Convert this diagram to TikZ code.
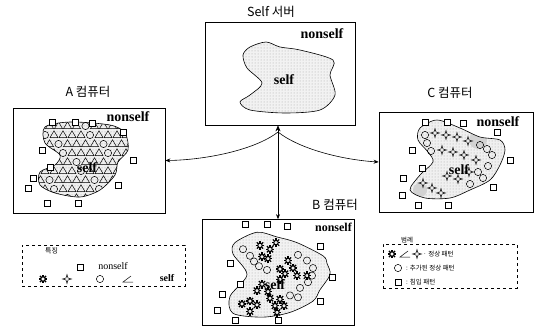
\documentclass[tikz,border=0pt]{standalone}
\usepackage{fontspec}
\setmainfont{Liberation Serif}
\newfontfamily\kr{Noto Sans CJK KR}
\usetikzlibrary{arrows.meta,shapes.geometric,patterns}

\tikzset{
  frame/.style={draw, line width=0.7pt, inner sep=0pt, fill=white},
  ttl/.style={font=\kr\fontsize{12.5}{12.5}\selectfont, inner sep=0pt},
  nsl/.style={font=\bfseries\fontsize{14}{14}\selectfont, inner sep=0pt},
  keybox/.style={draw, dashed, line width=0.5pt, inner sep=0pt},
  keytxt/.style={font=\kr\fontsize{6.5}{6.5}\selectfont, inner sep=0pt, anchor=west},
  link/.style={line width=0.6pt},
  % markers
  sqm/.pic={\draw[line width=0.5pt, fill=white] (-3,-3) rectangle (3,3);},
  cim/.pic={\draw[line width=0.5pt] (0,0) circle (3.6);},
  trm/.pic={\draw[line width=0.5pt] (-4,2.6) -- (4,2.6) -- (0,-4.2) -- cycle;},
  gearm/.pic={\draw[line width=1pt] (0,0) circle (2.2);
              \foreach \a in {0,45,...,315} \draw[line width=1.2pt] (\a:2.2) -- (\a:4.4);},
  starm/.pic={\draw[line width=0.5pt, fill=white] (0,-4.5) -- (1,-1) -- (4.5,0) -- (1,1)
              -- (0,4.5) -- (-1,1) -- (-4.5,0) -- (-1,-1) -- cycle;},
  angm/.pic={\draw[line width=0.5pt] (5,3) -- (-5,3) -- (3,-3);}
}

\begin{document}
\begin{tikzpicture}[x=1pt,y=-1pt]
\useasboundingbox (0,0) rectangle (536,327);

% ---------- frames ----------
\node[frame, minimum width=150pt, minimum height=103pt] (srv) at (280,73.5) {};
\node[frame, minimum width=152pt, minimum height=105pt] (pcA) at (89,160.5) {};
\node[frame, minimum width=154pt, minimum height=100pt] (pcC) at (456,162) {};
\node[frame, minimum width=152pt, minimum height=106pt] (pcB) at (278,272.5) {};

\node[ttl] (tsrv) at (271,12) {Self 서버};
\node[ttl] (tA) at (88,92) {A 컴퓨터};
\node[ttl] (tC) at (450,93) {C 컴퓨터};
\node[ttl] (tB) at (335,205) {B 컴퓨터};

% ---------- server region ----------
\begin{scope}
  \clip plot[smooth cycle] coordinates {(266,42) (250,47) (243,55) (247,68) (262,83) (250,95)
    (240,102) (250,110) (285,113) (320,110) (335,95) (330,75) (333,60) (300,50) (280,47)};
  \fill[gray!10] (200,20) rectangle (360,130);
  \path[pattern=dots, pattern color=gray!70] (200,20) rectangle (360,130);
\end{scope}
\draw[link] plot[smooth cycle] coordinates {(266,42) (250,47) (243,55) (247,68) (262,83) (250,95)
    (240,102) (250,110) (285,113) (320,110) (335,95) (330,75) (333,60) (300,50) (280,47)};
\node[nsl] (nsS) at (322,34) {nonself};
\node[nsl] (sS) at (284,80) {self};

% ---------- computer A ----------
\begin{scope}
  \clip plot[smooth cycle] coordinates {(45,127) (70,122) (110,125) (125,133) (128,150) (118,162)
    (115,175) (100,190) (80,197) (55,193) (40,185) (40,172) (55,165) (60,155) (45,143)};
  \fill[gray!12] (20,110) rectangle (140,205);
  \path[pattern=dots, pattern color=gray!70] (20,110) rectangle (140,205);
  \foreach \y [count=\r] in {126,135,...,198}{
    \foreach \x [count=\c] in {36,45,...,132}{
      \pgfmathsetmacro\xx{\x+mod(\r,2)*4.5}
      \pgfmathtruncatemacro\k{mod(\r*2+\c*3,5)}
      \ifnum\k=0 \pic at (\xx,\y) {cim}; \else \pic at (\xx,\y) {trm}; \fi
    }
  }
\end{scope}
\draw[link] plot[smooth cycle] coordinates {(45,127) (70,122) (110,125) (125,133) (128,150) (118,162)
    (115,175) (100,190) (80,197) (55,193) (40,185) (40,172) (55,165) (60,155) (45,143)};
\foreach \x/\y in {52/122,75/122,92/123,123/132,42/150,50/167,133/160,118/185,33/178,28/188,47/203,78/203}
  \pic at (\x,\y) {sqm};
\node[nsl] (nsA) at (128,117) {nonself};
\node[nsl] (sA) at (87,168) {self};

% ---------- computer C ----------
\begin{scope}
  \clip plot[smooth cycle] coordinates {(437,120) (420,128) (418,140) (428,152) (433,162) (420,175)
    (410,190) (425,198) (450,198) (470,190) (490,180) (500,165) (505,150) (500,140) (480,137) (460,128)};
  \fill[gray!12] (400,110) rectangle (520,205);
  \path[pattern=dots, pattern color=gray!70] (400,110) rectangle (520,205);
  \fill[gray!35] (478,140) circle (9);
  \fill[gray!35] (420,190) circle (7);
\end{scope}
\draw[link] plot[smooth cycle] coordinates {(437,120) (420,128) (418,140) (428,152) (433,162) (420,175)
    (410,190) (425,198) (450,198) (470,190) (490,180) (500,165) (505,150) (500,140) (480,137) (460,128)};
\foreach \x/\y in {425/135,427/143,431/151,480/145,487/149,492/155,478/172,483/178,470/184,488/166}
  \pic at (\x,\y) {cim};
\foreach \x/\y in {435/133,446/135,457/137,468/141,442/150,453/152,464/155,447/176,458/179,469/172,
                   423/183,432/188,441/193,476/160}
  \pic at (\x,\y) {starm};
\foreach \x/\y in {425/122,447/122,463/123,497/132,412/150,422/168,510/160,493/187,403/178,402/195,418/205,448/205}
  \pic at (\x,\y) {sqm};
\node[nsl] (nsC) at (498,122) {nonself};
\node[nsl] (sC) at (459,170) {self};

% ---------- computer B (contents laid out on a slightly compressed grid) ----------
\begin{scope}[yshift=-22.9pt, yscale=0.943]
  \begin{scope}
    \clip plot[smooth cycle] coordinates {(257,222) (277,227) (297,233) (323,247) (327,255) (330,267)
      (320,283) (313,295) (290,307) (263,312) (233,308) (230,290) (247,267) (233,245) (235,233)};
    \fill[gray!10] (220,215) rectangle (340,320);
    \path[pattern=dots, pattern color=gray!70] (220,215) rectangle (340,320);
  \end{scope}
  \draw[link] plot[smooth cycle] coordinates {(257,222) (277,227) (297,233) (323,247) (327,255) (330,267)
      (320,283) (313,295) (290,307) (263,312) (233,308) (230,290) (247,267) (233,245) (235,233)};
  \foreach \x/\y in {243/240,250/247,254/253,259/258,267/262,298/246,307/252,313/260,312/268,300/281,
                     290/289,298/291,308/275}
    \pic at (\x,\y) {cim};
  \node[nsl] (sB) at (275,278) {self};
  \foreach \x/\y in {260/236,270/240,276/233,262/248,268/250,288/252,280/261,293/260,285/266,297/268,307/268,
                     280/272,262/277,257/284,268/285,250/295,242/298,257/299,250/306,270/292,280/293,275/300,
                     284/300,277/307}
    \pic at (\x,\y) {gearm};
  \foreach \x/\y in {245/213,267/213,287/216,320/237,230/255,240/277,222/288,332/270,320/295,217/305,235/315,278/315}
    \pic at (\x,\y) {sqm};
\end{scope}
\node[nsl, font=\bfseries\fontsize{12}{12}\selectfont, anchor=east] (nsB) at (352,227) {nonself};

% ---------- connectors ----------
\coordinate (hub) at (278,132);
\draw[link, {Stealth[length=6pt,width=5pt]}-{Stealth[length=5pt,width=4pt]}] (pcB.north |- srv.south) -- (pcB.north);
\draw[link, -{Stealth[length=5pt,width=4pt]}] (hub) .. controls (255,150) and (205,160) .. (pcA.east);
\draw[link, -{Stealth[length=5pt,width=4pt]}] (hub) .. controls (301,150) and (345,160) .. (pcC.west);

% ---------- key (left) ----------
\node[keybox, minimum width=163pt, minimum height=41pt] (keyL) at (103.5,265.5) {};
\node[keytxt, font=\kr\fontsize{7}{7}\selectfont] (keyLt) at (45,251) {특징};
\pic at (80,267) {sqm};
\node[font=\fontsize{10}{10}\selectfont, inner sep=0pt] (keyLn) at (113,266) {nonself};
\pic at (43,279) {gearm};
\pic at (67,279) {starm};
\pic at (100,279) {cim};
\pic at (128,279) {angm};
\node[font=\bfseries\fontsize{10}{10}\selectfont, inner sep=0pt] (keyLs) at (167,278) {self};

% ---------- key (right) ----------
\node[keybox, minimum width=134pt, minimum height=44pt] (keyR) at (450,266) {};
\node[keytxt, fill=white, inner sep=1pt] (keyRt) at (400,240) {범례};
\pic at (392,254) {gearm};
\pic at (405,254) {angm};
\pic at (417,254) {starm};
\node[keytxt] (keyR1) at (423,254) {· 정상 패턴};
\pic at (398,268) {cim};
\node[keytxt] (keyR2) at (406,268) {: 추가된 정상 패턴};
\pic at (398,282) {sqm};
\node[keytxt] (keyR3) at (406,282) {: 침입 패턴};
\end{tikzpicture}
\end{document}
